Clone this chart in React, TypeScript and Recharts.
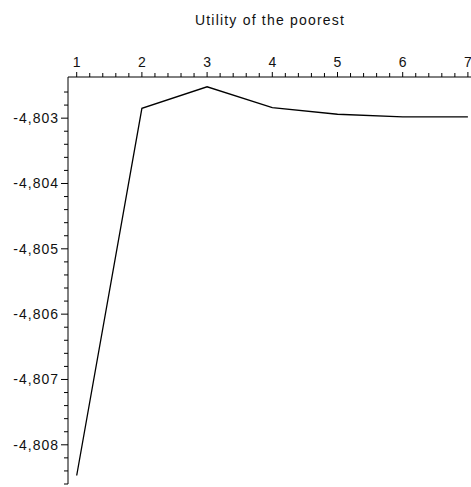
import React from "react";
import { LineChart, Line, XAxis, YAxis } from "recharts";

const periods = [1, 2, 3, 4, 5, 6, 7];
const utility = [-4.80847, -4.80285, -4.80252, -4.80284, -4.80294, -4.80298, -4.80298];
const xMajorTicks = [1, 2, 3, 4, 5, 6, 7];
const yMajorTicks = [-4.803, -4.804, -4.805, -4.806, -4.807, -4.808];
const title = "Utility of the poorest";

const data = periods.map((p, i) => ({ period: p, value: utility[i] }));

const xTicks: number[] = [];
for (let i = 0; i <= 30; i++) xTicks.push(Math.round((1 + i * 0.2) * 10) / 10);
const yTicks: number[] = [];
for (let i = 0; i <= 30; i++) yTicks.push(Math.round((-4.8086 + i * 0.0002) * 10000) / 10000);

const FONT = "'Liberation Sans', Arial, sans-serif";

const isMajorY = (v: number) => yMajorTicks.some((m) => Math.abs(m - v) < 1e-7);
const isMajorX = (v: number) => xMajorTicks.some((m) => Math.abs(m - v) < 1e-7);

const YTick = (props: any) => {
  const { x, y, payload } = props;
  const major = isMajorY(payload.value);
  return (
    <g>
      <line x1={x - (major ? 7 : 4)} y1={y} x2={x} y2={y} stroke="#000" strokeWidth={1} />
      {major && (
        <text x={x - 9} y={y + 5} textAnchor="end" fontSize={14} fontFamily={FONT} letterSpacing={1} fill="#111">
          {payload.value.toFixed(3).replace(".", ",")}
        </text>
      )}
    </g>
  );
};

const XTick = (props: any) => {
  const { x, y, payload } = props;
  const major = isMajorX(payload.value);
  return (
    <g>
      <line x1={x} y1={y - (major ? 5 : 4)} x2={x} y2={y} stroke="#000" strokeWidth={1} />
      {major && (
        <text x={x} y={y - 10} textAnchor="middle" fontSize={14} fontFamily={FONT} fill="#111">
          {String(payload.value)}
        </text>
      )}
    </g>
  );
};

export default function App() {
  return (
    <div style={{ position: "absolute", left: 0, top: 0, background: "#fff" }}>
      <LineChart width={471} height={487} data={data} margin={{ top: 47, left: 8, right: 0, bottom: 3 }}>
        <text x={270} y={25} textAnchor="middle" fontSize={14} fontFamily={FONT} letterSpacing={1.2} fill="#111">
          {title}
        </text>
        <XAxis
          dataKey="period"
          type="number"
          orientation="top"
          domain={[0.8666, 7.0475]}
          allowDataOverflow
          ticks={xTicks}
          interval={0}
          height={30}
          tickSize={0}
          tickMargin={0}
          tickLine={false}
          axisLine={{ stroke: "#000", strokeWidth: 1 }}
          tick={<XTick />}
        />
        <YAxis
          type="number"
          domain={[-4.8086, -4.80237]}
          allowDataOverflow
          ticks={yTicks}
          interval={0}
          width={60}
          tickSize={0}
          tickMargin={0}
          tickLine={false}
          axisLine={{ stroke: "#000", strokeWidth: 1 }}
          tick={<YTick />}
        />
        <Line
          type="linear"
          dataKey="value"
          stroke="#000"
          strokeWidth={1.3}
          dot={false}
          isAnimationActive={false}
        />
      </LineChart>
    </div>
  );
}
